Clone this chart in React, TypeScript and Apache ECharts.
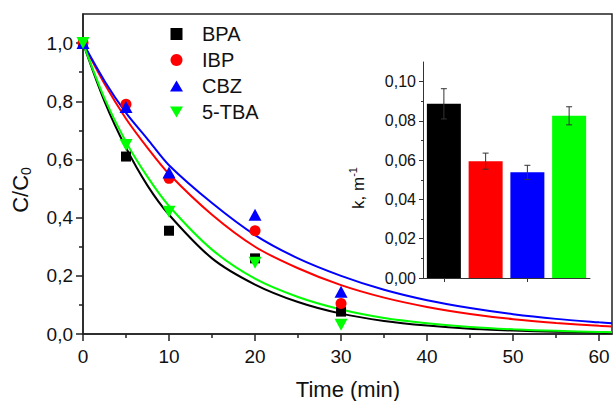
import React, { useEffect, useRef } from 'react';
import * as echarts from 'echarts';

const species = ['BPA', 'IBP', 'CBZ', '5-TBA'];
const seriesColors = ['#000000', '#ff0000', '#0000ff', '#00ff00'];

const sampleTimes = [0, 5, 10, 20, 30];
const bpaData = [1.0, 0.61, 0.355, 0.26, 0.077];
const ibpData = [1.0, 0.79, 0.535, 0.355, 0.105];
const cbzData = [1.0, 0.78, 0.555, 0.41, 0.145];
const tbaData = [1.0, 0.65, 0.42, 0.245, 0.032];

const fitTimes = [0, 2.5, 5, 7.5, 10, 15, 20, 25, 30, 35, 40, 45, 50, 55, 60, 61.5];
const bpaFit = [1, 0.8, 0.64, 0.51, 0.41, 0.26, 0.17, 0.11, 0.07, 0.045, 0.029, 0.018, 0.012, 0.008, 0.005, 0.004];
const ibpFit = [1, 0.86, 0.74, 0.64, 0.55, 0.41, 0.3, 0.226, 0.168, 0.125, 0.093, 0.069, 0.051, 0.038, 0.028, 0.026];
const cbzFit = [1, 0.87, 0.76, 0.67, 0.58, 0.45, 0.34, 0.26, 0.2, 0.152, 0.116, 0.089, 0.068, 0.052, 0.04, 0.037];
const tbaFit = [1, 0.81, 0.66, 0.54, 0.44, 0.29, 0.19, 0.127, 0.084, 0.055, 0.037, 0.024, 0.016, 0.011, 0.007, 0.006];

const rateConstants = [0.0887, 0.0595, 0.0538, 0.0826];
const rateErrors = [0.0077, 0.0041, 0.0036, 0.0046];

const xMajorTicks = [0, 10, 20, 30, 40, 50, 60];
const xMinorTicks = [5, 15, 25, 35, 45, 55];
const yMajorTicks = [0, 0.2, 0.4, 0.6, 0.8, 1.0];
const yMinorTicks = [0.1, 0.3, 0.5, 0.7, 0.9];
const kMajorTicks = [0, 0.02, 0.04, 0.06, 0.08, 0.1];
const kMinorTicks = [0.01, 0.03, 0.05, 0.07, 0.09];

const FONT = '"Liberation Sans", Arial, sans-serif';
const AXIS_COLOR = '#222';

export default function App() {
  const ref = useRef<HTMLDivElement>(null);
  useEffect(() => {
    if (!ref.current) return;
    const chart = echarts.init(ref.current, undefined, { renderer: 'svg' });
    const measured = [bpaData, ibpData, cbzData, tbaData];
    const fits = [bpaFit, ibpFit, cbzFit, tbaFit];
    const symbols = ['rect', 'circle', 'triangle', 'triangle'];
    const symbolSizes: any[] = [10, 11, [13, 12], [13, 12]];
    const legendIcons = [
      'path://M1,1L11,1L11,11L1,11Z',
      'circle',
      'path://M6.5,0L13,11L0,11Z',
      'path://M0,0L13,0L6.5,11Z',
    ];

    const lineSeries = fits.map((f, i) => ({
      name: species[i] + ' fit',
      type: 'line',
      xAxisIndex: 0,
      yAxisIndex: 0,
      data: fitTimes.map((t, j) => [t, f[j]]),
      smooth: 0.3,
      showSymbol: false,
      symbol: 'none',
      clip: true,
      lineStyle: { color: seriesColors[i], width: 2 },
      itemStyle: { color: seriesColors[i] },
      z: 2,
    }));

    const scatterSeries = measured.map((d, i) => ({
      name: species[i],
      type: 'scatter',
      xAxisIndex: 0,
      yAxisIndex: 0,
      data: sampleTimes.map((t, j) => [t, d[j]]),
      symbol: symbols[i],
      symbolSize: symbolSizes[i],
      symbolRotate: i === 3 ? 180 : 0,
      itemStyle: { color: seriesColors[i], opacity: 1 },
      z: 3,
    }));

    const tickStyle = { color: AXIS_COLOR, width: 1.5 };

    chart.setOption({
      animation: false,
      backgroundColor: '#ffffff',
      textStyle: { fontFamily: FONT },
      grid: [
        { left: 83, top: 14, right: 2, bottom: 67, show: true, borderColor: AXIS_COLOR, borderWidth: 1.5, backgroundColor: 'transparent' },
        { left: 423, top: 62, width: 167, height: 216 },
      ],
      legend: {
        data: species.map((s, i) => ({ name: s, icon: legendIcons[i] })),
        orient: 'vertical',
        left: 165,
        top: 19,
        itemWidth: 13,
        itemHeight: 12,
        itemGap: 6,
        symbolKeepAspect: true,
        selectedMode: false,
        textStyle: { fontSize: 20, color: '#111', fontFamily: FONT, padding: [0, 0, 0, 14] },
      },
      xAxis: [
        {
          type: 'value', gridIndex: 0, min: 0, max: 61.5,
          axisLine: { show: true, onZero: false, lineStyle: tickStyle },
          axisTick: { show: true, customValues: xMajorTicks, length: 7, lineStyle: tickStyle },
          axisLabel: { customValues: xMajorTicks, fontSize: 19, color: '#111', margin: 13, fontFamily: FONT },
          splitLine: { show: false },
        },
        {
          type: 'value', gridIndex: 0, min: 0, max: 61.5, position: 'bottom',
          axisLine: { show: false, onZero: false },
          axisTick: { show: true, customValues: xMinorTicks, length: 4, lineStyle: tickStyle },
          axisLabel: { show: false },
          splitLine: { show: false },
        },
        {
          type: 'category', gridIndex: 1, data: species,
          axisLine: { show: true, lineStyle: { color: '#333', width: 1 } },
          axisTick: { show: true, alignWithLabel: true, length: 4, lineStyle: { color: '#333', width: 1 } },
          axisLabel: { show: false },
          splitLine: { show: false },
        },
      ],
      yAxis: [
        {
          type: 'value', gridIndex: 0, min: 0, max: 1.1,
          axisLine: { show: true, onZero: false, lineStyle: tickStyle },
          axisTick: { show: true, customValues: yMajorTicks, length: 7, lineStyle: tickStyle },
          axisLabel: {
            customValues: yMajorTicks, fontSize: 19, color: '#111', margin: 10, fontFamily: FONT,
            formatter: (v: number) => v.toFixed(1).replace('.', ','),
          },
          splitLine: { show: false },
        },
        {
          type: 'value', gridIndex: 0, min: 0, max: 1.1, position: 'left',
          axisLine: { show: false, onZero: false },
          axisTick: { show: true, customValues: yMinorTicks, length: 4, lineStyle: tickStyle },
          axisLabel: { show: false },
          splitLine: { show: false },
        },
        {
          type: 'value', gridIndex: 1, min: 0, max: 0.11,
          axisLine: { show: true, onZero: false, lineStyle: { color: '#333', width: 1 } },
          axisTick: { show: true, customValues: kMajorTicks, length: 4, lineStyle: { color: '#333', width: 1 } },
          axisLabel: {
            customValues: kMajorTicks, fontSize: 16, color: '#111', margin: 7, fontFamily: FONT,
            formatter: (v: number) => v.toFixed(2).replace('.', ','),
          },
          splitLine: { show: false },
        },
        {
          type: 'value', gridIndex: 1, min: 0, max: 0.11, position: 'left',
          axisLine: { show: false, onZero: false },
          axisTick: { show: true, customValues: kMinorTicks, length: 2, lineStyle: { color: '#333', width: 1 } },
          axisLabel: { show: false },
          splitLine: { show: false },
        },
      ],
      series: [
        ...lineSeries,
        ...scatterSeries,
        {
          name: 'k',
          type: 'bar',
          xAxisIndex: 2,
          yAxisIndex: 2,
          barWidth: 34,
          data: rateConstants.map((v, i) => ({ value: v, itemStyle: { color: seriesColors[i] } })),
          z: 2,
        },
        {
          name: 'k error',
          type: 'custom',
          xAxisIndex: 2,
          yAxisIndex: 2,
          data: rateConstants.map((v, i) => [i, v, rateErrors[i]]),
          z: 5,
          renderItem: (params: any, api: any) => {
            const idx = api.value(0);
            const val = api.value(1);
            const err = api.value(2);
            const top = api.coord([idx, val + err]);
            const bot = api.coord([idx, val - err]);
            const cap = 3;
            const style = { stroke: '#333', lineWidth: 1 };
            return {
              type: 'group',
              children: [
                { type: 'line', shape: { x1: top[0], y1: top[1], x2: bot[0], y2: bot[1] }, style },
                { type: 'line', shape: { x1: top[0] - cap, y1: top[1], x2: top[0] + cap, y2: top[1] }, style },
                { type: 'line', shape: { x1: bot[0] - cap, y1: bot[1], x2: bot[0] + cap, y2: bot[1] }, style },
              ],
            };
          },
        },
      ],
      graphic: [
        {
          type: 'text', x: 20, y: 190, rotation: Math.PI / 2,
          style: {
            text: '{a|C/C}{b|0}',
            align: 'center', verticalAlign: 'middle',
            rich: {
              a: { fontSize: 22, fontFamily: FONT, fill: '#111', lineHeight: 26 },
              b: { fontSize: 14, fontFamily: FONT, fill: '#111', verticalAlign: 'bottom', lineHeight: 14 },
            },
          },
        },
        {
          type: 'text', x: 348, y: 389,
          style: { text: 'Time (min)', fontSize: 22, fontFamily: FONT, fill: '#111', align: 'center', verticalAlign: 'middle' },
        },
        {
          type: 'text', x: 358, y: 188, rotation: Math.PI / 2,
          style: {
            text: '{a|k, m}{b|-1}',
            align: 'center', verticalAlign: 'middle',
            rich: {
              a: { fontSize: 17, fontFamily: FONT, fill: '#111', lineHeight: 22 },
              b: { fontSize: 11, fontFamily: FONT, fill: '#111', verticalAlign: 'top', lineHeight: 11 },
            },
          },
        },
      ],
    });
    return () => chart.dispose();
  }, []);
  return <div ref={ref} style={{ width: 614, height: 401, position: 'absolute', left: 0, top: 0 }} />;
}
